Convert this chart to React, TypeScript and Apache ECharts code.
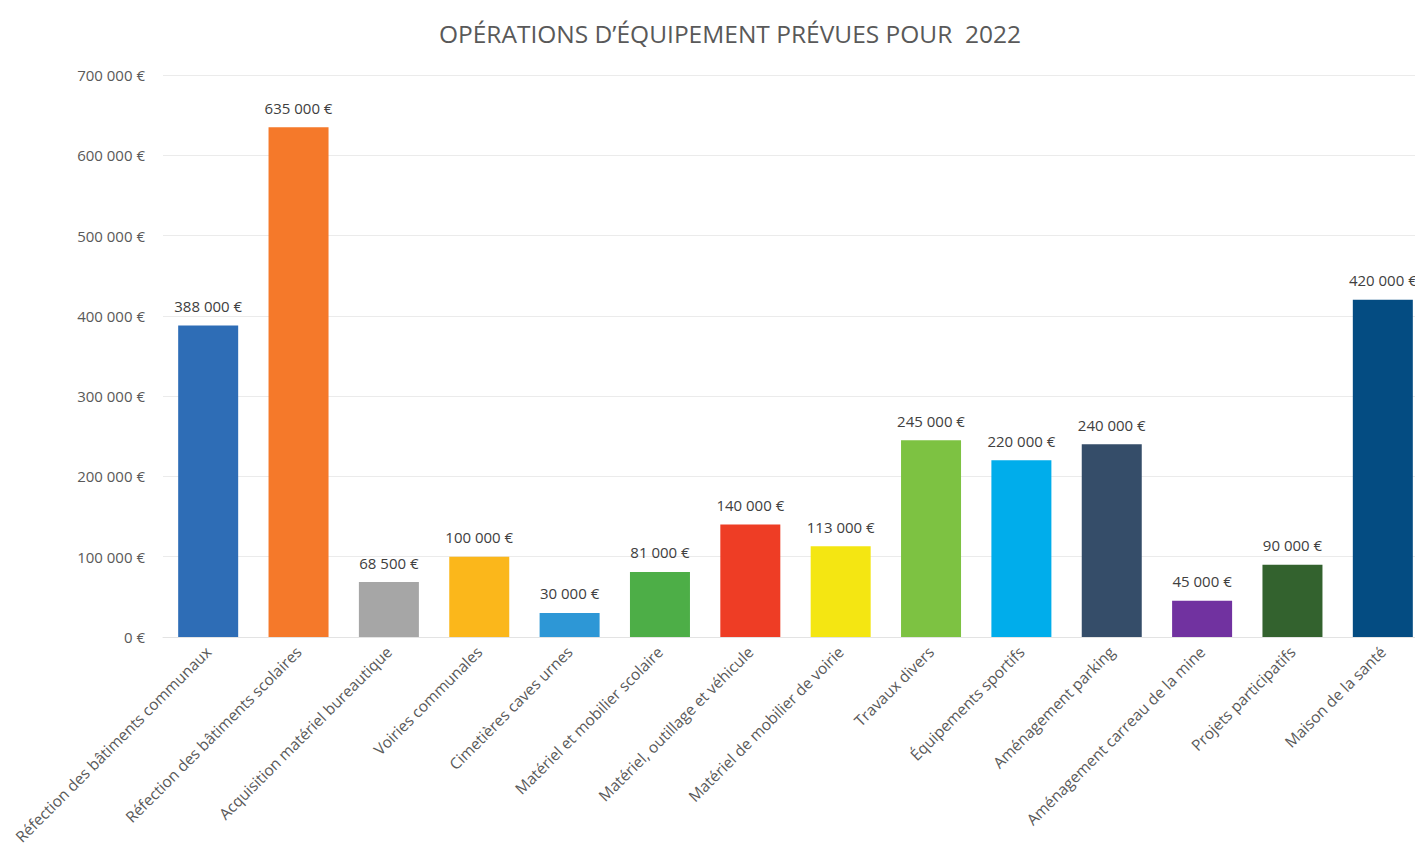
import React, { useEffect, useRef } from "react";
import * as echarts from "echarts";

const categories = [
  "Réfection des bâtiments communaux",
  "Réfection des bâtiments scolaires",
  "Acquisition matériel bureautique",
  "Voiries communales",
  "Cimetières caves urnes",
  "Matériel et mobilier scolaire",
  "Matériel, outillage et véhicule",
  "Matériel de mobilier de voirie",
  "Travaux divers",
  "Équipements sportifs",
  "Aménagement parking",
  "Aménagement carreau de la mine",
  "Projets participatifs",
  "Maison de la santé",
];

const values = [388000, 635000, 68500, 100000, 30000, 81000, 140000, 113000, 245000, 220000, 240000, 45000, 90000, 420000];

const colors = [
  "#2E6DB6", "#F5792A", "#A6A6A6", "#FBB71B", "#2D97D6", "#4DAE47", "#EE3D25",
  "#F4E612", "#7DC242", "#00ADEB", "#354D69", "#7132A0", "#33622E", "#044C82",
];

const fmt = (v: number) => String(v).replace(/\B(?=(\d{3})+(?!\d))/g, " ") + " €";

export default function App() {
  const ref = useRef<HTMLDivElement>(null);
  useEffect(() => {
    if (!ref.current) return;
    const chart = echarts.init(ref.current, null, { renderer: "svg" });
    const font = "'Open Sans', sans-serif";
    chart.setOption({
      animation: false,
      backgroundColor: "#ffffff",
      title: {
        text: "OPÉRATIONS D’ÉQUIPEMENT PRÉVUES POUR  2022",
        left: 725,
        textAlign: "center",
        top: 16,
        textStyle: { fontFamily: font, fontSize: 24.5, fontWeight: "normal", color: "#595959" },
      },
      grid: { left: 163, top: 75, width: 1265, height: 562, containLabel: false },
      xAxis: {
        type: "category",
        data: categories,
        axisLine: { show: true, lineStyle: { color: "#e3e3e3" } },
        axisTick: { show: false },
        axisLabel: {
          rotate: 45,
          interval: 0,
          margin: 12,
          fontFamily: font,
          fontSize: 15.5,
          color: "#595959",
        },
      },
      yAxis: {
        type: "value",
        min: 0,
        max: 700000,
        interval: 100000,
        axisLine: { show: false },
        axisTick: { show: false },
        splitLine: { lineStyle: { color: "#ebebeb" } },
        axisLabel: {
          margin: 18,
          fontFamily: font,
          fontSize: 15,
          color: "#595959",
          formatter: (v: number) => fmt(v),
        },
      },
      series: [
        {
          type: "bar",
          barWidth: 60,
          data: values.map((v, i) => ({ value: v, itemStyle: { color: colors[i] } })),
          label: {
            show: true,
            position: "top",
            distance: 12,
            fontFamily: font,
            fontSize: 15,
            color: "#404040",
            formatter: (p: any) => fmt(p.value),
          },
        },
      ],
    });
    return () => chart.dispose();
  }, []);
  return (
    <div style={{ position: "fixed", left: 0, top: 0, width: 1415, height: 865, overflow: "hidden", background: "#fff" }}>
      <div ref={ref} style={{ width: 1440, height: 865 }} />
    </div>
  );
}
